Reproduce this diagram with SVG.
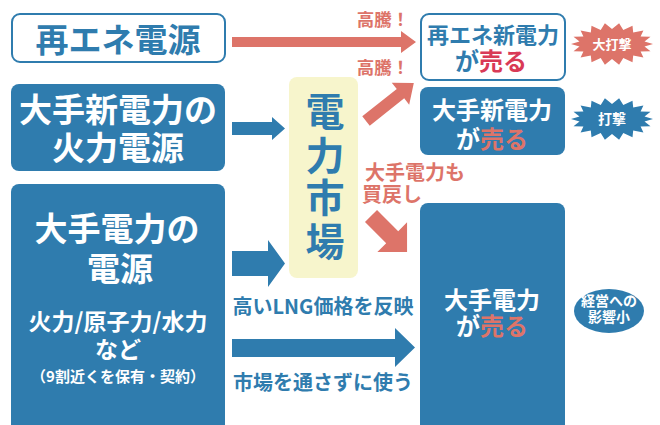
<svg xmlns="http://www.w3.org/2000/svg" width="660" height="425" viewBox="0 0 660 425">
<defs>
<style>
text{font-family:"Noto Sans CJK JP","Noto Sans",sans-serif;font-weight:700;text-anchor:middle}
.blue{fill:#2f7cae}
.pink{fill:#dd7469}
.w{fill:#ffffff}
.bt{fill:#2f7cae}
.pt{fill:#dd7469}
.red{fill:#d93a56}
.outline{fill:#ffffff;stroke:#2f7cae;stroke-width:2}
</style>
<polygon id="burst" points="41,0 32.5,2.6 38.5,7.2 28.6,7.5 31.4,13.5 21.2,11.5 20.5,18.2 11.3,14.1 7.1,20.7 0,15 -7.1,20.7 -11.3,14.1 -20.5,18.2 -21.2,11.5 -31.4,13.5 -28.6,7.5 -38.5,7.2 -32.5,2.6 -41,0 -32.5,-2.6 -38.5,-7.2 -28.6,-7.5 -31.4,-13.5 -21.2,-11.5 -20.5,-18.2 -11.3,-14.1 -7.1,-20.7 0,-15 7.1,-20.7 11.3,-14.1 20.5,-18.2 21.2,-11.5 31.4,-13.5 28.6,-7.5 38.5,-7.2 32.5,-2.6"/>
</defs>
<rect width="660" height="425" fill="#ffffff"/>

<g id="connectors">
<polygon class="pink" points="232,37 401,37 401,31 416,42 401,53 401,47 232,47"/>
<polygon class="blue" points="232,122 272,122 272,117 285,128.5 272,140 272,135 232,135"/>
<polygon class="blue" points="232,251 268,251 268,240 285,263.5 268,287 268,276 232,276"/>
<polygon class="blue" points="232,339 395,339 395,328 415,347.5 395,367 395,357 232,357"/>
<polygon class="pink" transform="translate(366,121) rotate(-38.4)" points="0,-6 44,-6 44,-14 61,0 44,14 44,6 0,6"/>
<polygon class="pink" transform="translate(371,216) rotate(45)" points="0,-8.5 30,-8.5 30,-21 51,0 30,21 30,8.5 0,8.5"/>
<text class="pt" x="383" y="26" font-size="17.5">高騰！</text>
<text class="pt" x="383" y="74" font-size="17.5">高騰！</text>
<text class="pt" x="415" y="180" font-size="20">大手電力も</text>
<text class="pt" x="392" y="202" font-size="20">買戻し</text>
<text class="bt" x="323" y="314" font-size="20">高いLNG価格を反映</text>
<text class="bt" x="323" y="390" font-size="20">市場を通さずに使う</text>
</g>

<g id="renewable-source">
<rect class="outline" x="12" y="14" width="213" height="48" rx="8"/>
<text class="bt" x="118" y="52" font-size="33">再エネ電源</text>
</g>

<g id="new-power-thermal">
<rect class="blue" x="11" y="84" width="214" height="87" rx="8"/>
<text class="w" x="118" y="122" font-size="33">大手新電力の</text>
<text class="w" x="118" y="160" font-size="33">火力電源</text>
</g>

<g id="major-power-source">
<rect class="blue" x="11" y="184" width="214" height="250" rx="8"/>
<text class="w" x="117" y="241" font-size="33">大手電力の</text>
<text class="w" x="120" y="281" font-size="33">電源</text>
<text class="w" x="118" y="330" font-size="23">火力/原子力/水力</text>
<text class="w" x="118" y="358" font-size="23">など</text>
<text class="w" x="118" y="382" font-size="15">（9割近くを保有・契約）</text>
</g>

<g id="power-market">
<rect x="289" y="77" width="69" height="201" rx="8" fill="#f7f5cc"/>
<text class="bt" x="325" y="126" font-size="39">電</text>
<text class="bt" x="325" y="170" font-size="39">力</text>
<text class="bt" x="325" y="212" font-size="39">市</text>
<text class="bt" x="325" y="256" font-size="39">場</text>
</g>

<g id="renewable-new-sells">
<rect class="outline" x="421" y="14" width="144" height="66" rx="8"/>
<text class="bt" x="493" y="43" font-size="22">再エネ新電力</text>
<text class="bt" x="491" y="70" font-size="24">が<tspan class="red">売る</tspan></text>
</g>

<g id="new-power-sells">
<rect class="blue" x="420" y="87" width="145" height="68" rx="8"/>
<text class="w" x="492" y="119" font-size="24">大手新電力</text>
<text class="w" x="492" y="148" font-size="24">が<tspan class="pt">売る</tspan></text>
</g>

<g id="major-power-sells">
<rect class="blue" x="420" y="203" width="145" height="230" rx="8"/>
<text class="w" x="492" y="309" font-size="24">大手電力</text>
<text class="w" x="492" y="335" font-size="24">が<tspan class="pt">売る</tspan></text>
</g>

<g id="big-blow">
<use href="#burst" x="612" y="44" fill="#dd7469"/>
<text class="w" x="612" y="48.5" font-size="13">大打撃</text>
</g>

<g id="blow">
<use href="#burst" x="612" y="119" fill="#2f7cae"/>
<text class="w" x="612" y="124" font-size="14">打撃</text>
</g>

<g id="small-impact">
<ellipse cx="609" cy="311" rx="35" ry="22" fill="#2f7cae"/>
<text class="w" x="609" y="306" font-size="14">経営への</text>
<text class="w" x="609" y="322" font-size="14">影響小</text>
</g>
</svg>
